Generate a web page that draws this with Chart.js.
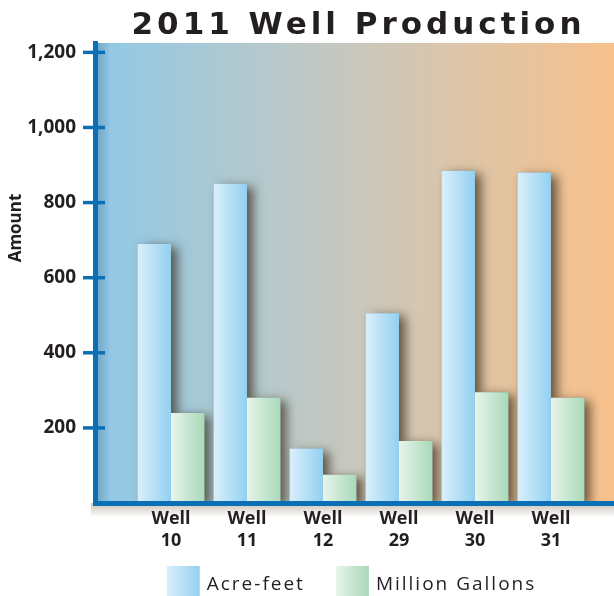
<!DOCTYPE html>
<html lang="en">
<head>
<meta charset="UTF-8">
<title>2011 Well Production</title>
<script src="https://cdn.jsdelivr.net/npm/chart.js@4.4.1/dist/chart.umd.min.js"></script>
<style>
  html, body { margin: 0; padding: 0; background: #fff; }
  #wrap { width: 614px; height: 596px; }
</style>
</head>
<body>
<div id="wrap"><canvas id="well-chart"></canvas></div>
<script>
// data
var wells = ['10', '11', '12', '29', '30', '31'];
var acreFeet = [690, 850, 145, 505, 885, 880];
var millionGallons = [240, 280, 75, 165, 295, 280];
var yTicks = [200, 400, 600, 800, 1000, 1200];
var seriesNames = ['Acre-feet', 'Million Gallons'];

var blueBar = ['#daf0fb', '#93d0f1'];
var greenBar = ['#e8f4eb', '#a9d9b9'];
var axisBlue = '#0b6fb6';
var ink = '#231f20';
var catPct = 0.88;

// per-bar horizontal gradient, worked out from the x scale
function barFill(colors, side) {
    return function (c) {
        var chart = c.chart;
        var xs = chart.scales.x;
        if (!chart.chartArea || !xs || !c.raw) return colors[1];
        var unit = xs.getPixelForValue(1) - xs.getPixelForValue(0);
        var w = unit * catPct / 2;
        var mid = xs.getPixelForValue(c.raw.x);
        var l = side < 0 ? mid - w : mid;
        var g = chart.ctx.createLinearGradient(l, 0, l + w, 0);
        g.addColorStop(0, colors[0]);
        g.addColorStop(1, colors[1]);
        return g;
    };
}

var decor = {
    id: 'decor',
    beforeDraw: function (chart) {
        var ctx = chart.ctx, a = chart.chartArea;
        ctx.save();
        var bg = ctx.createLinearGradient(a.left, 0, a.right, 0);
        bg.addColorStop(0, '#8fc9e8');
        bg.addColorStop(0.5, '#c9c8bd');
        bg.addColorStop(1, '#f8c18c');
        ctx.fillStyle = bg;
        ctx.fillRect(a.left, a.top, a.right - a.left, a.bottom - a.top);

        var sh = ctx.createLinearGradient(a.left, 0, a.left + 16, 0);
        sh.addColorStop(0, 'rgba(20,60,90,0.28)');
        sh.addColorStop(1, 'rgba(20,60,90,0)');
        ctx.fillStyle = sh;
        ctx.fillRect(a.left, a.top, 16, a.bottom - a.top);

        var sb = ctx.createLinearGradient(0, a.bottom, 0, a.bottom + 14);
        sb.addColorStop(0, 'rgba(110,80,40,0.35)');
        sb.addColorStop(1, 'rgba(110,80,40,0)');
        ctx.fillStyle = sb;
        ctx.fillRect(a.left - 4, a.bottom, a.right - a.left + 4, 14);

        // title
        ctx.fillStyle = ink;
        ctx.font = 'bold 31px "DejaVu Sans"';
        ctx.letterSpacing = '4px';
        ctx.textAlign = 'center';
        ctx.textBaseline = 'alphabetic';
        ctx.fillText('2011 Well Production', (a.left + a.right) / 2 + 4, 34);
        ctx.restore();
    },
    beforeDatasetsDraw: function (chart) {
        var ctx = chart.ctx, a = chart.chartArea;
        ctx.save();
        ctx.beginPath();
        ctx.rect(a.left, a.top, a.right - a.left, a.bottom - a.top);
        ctx.clip();
        ctx.shadowColor = 'rgba(60,45,25,0.75)';
        ctx.shadowBlur = 10;
        ctx.shadowOffsetX = 6;
        ctx.shadowOffsetY = 3;
        ctx.fillStyle = '#888';
        chart.data.datasets.forEach(function (ds, i) {
            chart.getDatasetMeta(i).data.forEach(function (el) {
                var p = el.getProps(['x', 'y', 'base', 'width'], true);
                ctx.fillRect(p.x - p.width / 2, p.y, p.width, p.base - p.y);
            });
        });
        ctx.restore();
    },
    afterDraw: function (chart) {
        var ctx = chart.ctx, a = chart.chartArea, ys = chart.scales.y;
        ctx.save();
        // tick crosses on the y axis
        ctx.strokeStyle = axisBlue;
        ctx.lineWidth = 3.5;
        ys.ticks.forEach(function (t) {
            var py = ys.getPixelForValue(t.value);
            ctx.beginPath();
            ctx.moveTo(a.left - 12, py);
            ctx.lineTo(a.left + 10, py);
            ctx.stroke();
        });

        // y axis title
        ctx.fillStyle = ink;
        ctx.font = 'bold 17px "Open Sans"';
        ctx.textAlign = 'center';
        ctx.textBaseline = 'middle';
        ctx.translate(16, 228);
        ctx.rotate(-Math.PI / 2);
        ctx.fillText('Amount', 0, 0);
        ctx.setTransform(1, 0, 0, 1, 0, 0);
        ctx.restore();

        // legend
        ctx.save();
        ctx.font = '19px "Open Sans"';
        ctx.letterSpacing = '2px';
        ctx.textBaseline = 'alphabetic';
        ctx.textAlign = 'left';
        var box = 33, gap = 7, itemGap = 31;
        var widths = seriesNames.map(function (n) { return ctx.measureText(n).width; });
        var total = 0;
        widths.forEach(function (w, i) { total += box + gap + w + (i ? itemGap : 0); });
        var x0 = (a.left + a.right) / 2 - 3 - total / 2;
        seriesNames.forEach(function (n, i) {
            var cols = i ? greenBar : blueBar;
            var g = ctx.createLinearGradient(x0, 0, x0 + box, 0);
            g.addColorStop(0, cols[0]);
            g.addColorStop(1, cols[1]);
            ctx.fillStyle = g;
            ctx.fillRect(x0, 566, box, 30);
            ctx.fillStyle = ink;
            ctx.fillText(n, x0 + box + gap, 590);
            x0 += box + gap + widths[i] + itemGap;
        });
        ctx.restore();
    }
};

var ctx = document.getElementById('well-chart').getContext('2d');

var chart = new Chart(ctx, {
    type: 'bar',
    data: {
        datasets: [{
            label: seriesNames[0],
            data: acreFeet.map(function (v, i) { return { x: i + 1, y: v }; }),
            backgroundColor: barFill(blueBar, -1),
            categoryPercentage: catPct,
            barPercentage: 1
        }, {
            label: seriesNames[1],
            data: millionGallons.map(function (v, i) { return { x: i + 1, y: v }; }),
            backgroundColor: barFill(greenBar, 1),
            categoryPercentage: catPct,
            barPercentage: 1
        }]
    },
    options: {
        responsive: true,
        maintainAspectRatio: false,
        animation: false,
        layout: { padding: { top: 43, left: 0, right: 0, bottom: 0 } },
        plugins: {
            legend: { display: false },
            title: { display: false }
        },
        scales: {
            x: {
                type: 'linear',
                offset: false,
                min: 0,
                max: 6.83,
                grid: { display: false, drawTicks: false, tickLength: 0 },
                border: { display: true, color: axisBlue, width: 5, z: 1 },
                afterBuildTicks: function (s) {
                    s.ticks = wells.map(function (w, i) { return { value: i + 1 }; });
                },
                afterFit: function (s) { s.height = 93; },
                ticks: {
                    autoSkip: false,
                    maxRotation: 0,
                    padding: 5,
                    color: ink,
                    font: { family: '"Open Sans"', size: 18, weight: 'bold', lineHeight: 1.2 },
                    callback: function (v) { return ['Well', wells[v - 1]]; }
                }
            },
            y: {
                min: 0,
                max: 1225,
                grid: { display: false, drawTicks: false, tickLength: 0 },
                border: { display: true, color: axisBlue, width: 5, z: 1 },
                afterBuildTicks: function (s) {
                    s.ticks = yTicks.map(function (v) { return { value: v }; });
                },
                afterFit: function (s) { s.width = 95; },
                ticks: {
                    autoSkip: false,
                    padding: 19,
                    color: ink,
                    font: { family: '"Open Sans"', size: 19, weight: 'bold' },
                    callback: function (v) { return v.toLocaleString('en-US'); }
                }
            }
        }
    },
    plugins: [decor]
});
</script>
</body>
</html>
